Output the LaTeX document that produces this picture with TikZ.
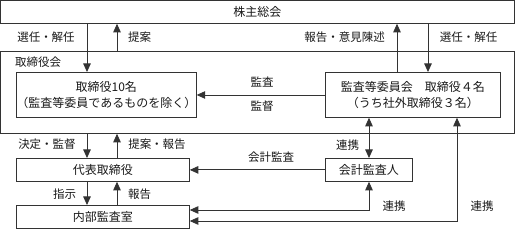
\documentclass[tikz,border=0pt]{standalone}
\usepackage{fontspec}
\setmainfont{Noto Sans CJK JP}
\usetikzlibrary{arrows.meta}
\begin{document}
\begin{tikzpicture}[x=1pt,y=-1pt,
  every node/.style={text=black!90},
  box/.style={draw=black!80, line width=0.8pt, inner sep=0pt, anchor=north west, font=\fontsize{12}{16.5}\selectfont, align=center},
  conn/.style={draw=black!80, line width=0.8pt},
  tip/.style={-{Triangle[length=8.5pt,width=7.5pt]}},
  tips/.style={{Triangle[length=8.5pt,width=7.5pt]}-{Triangle[length=8.5pt,width=7.5pt]}},
  lbl/.style={font=\fontsize{11.5}{13}\selectfont, inner sep=0pt}]
\useasboundingbox (0,0) rectangle (515,229);
% boxes
\node[box, minimum width=513pt, minimum height=22.5pt] (top) at (0.5,0.5) {株主総会};
\node[box, minimum width=513pt, minimum height=82pt] (board) at (0.5,51) {};
\node[lbl, anchor=west] (boardlbl) at (15,62) {取締役会};
\node[box, minimum width=173pt, minimum height=45pt] (d10) at (16,72) {取締役10名\\（監査等委員であるものを除く）};
\node[box, minimum width=175pt, minimum height=45pt] (com) at (325,72) {監査等委員会　取締役４名\\（うち社外取締役３名）};
\node[box, minimum width=173pt, minimum height=23pt] (rep) at (16,158) {代表取締役};
\node[box, minimum width=173pt, minimum height=23pt] (ia) at (16,205) {内部監査室};
\node[box, minimum width=87pt, minimum height=23pt] (ac) at (325,158) {会計監査人};
% helper coordinates
\coordinate (xa) at (87,0);
\coordinate (xb) at (117,0);
\coordinate (xc) at (397,0);
\coordinate (xd) at (428,0);
\coordinate (xe) at (369,0);
\coordinate (xf) at (457,0);
\coordinate (ym) at (0,95);
\coordinate (yu) at (0,210);
\coordinate (yl) at (0,221);
% connectors
\draw[conn,tip] (xa |- top.south) -- (xa |- d10.north);
\draw[conn,tip] (xb |- board.north) -- (xb |- top.south);
\draw[conn,tip] (xc |- com.north) -- (xc |- top.south);
\draw[conn,tip] (xd |- top.south) -- (xd |- com.north);
\draw[conn,tip] (com.west |- ym) -- (d10.east |- ym);
\draw[conn,tip] (xa |- board.south) -- (xa |- rep.north);
\draw[conn,tip] (xb |- rep.north) -- (xb |- board.south);
\draw[conn,tip] (xa |- rep.south) -- (xa |- ia.north);
\draw[conn,tip] (xb |- ia.north) -- (xb |- rep.south);
\draw[conn,tip] (ac.west) -- (rep.east |- ac.west);
\draw[conn,tips] (xe |- com.south) -- (xe |- ac.north);
\draw[conn,tips] (ia.east |- yu) -| (xe |- ac.south);
\draw[conn,tips] (ia.east |- yl) -| (xf |- com.south);
% labels
\node[lbl] (l1) at (46,37) {選任・解任};
\node[lbl] (l2) at (139.5,37) {提案};
\node[lbl] (l3) at (344.5,37) {報告・意見陳述};
\node[lbl] (l4) at (468.5,37) {選任・解任};
\node[lbl] (l5) at (262,82) {監査};
\node[lbl] (l6) at (262,106) {監督};
\node[lbl] (l7) at (47,144) {決定・監督};
\node[lbl] (l8) at (157,144) {提案・報告};
\node[lbl] (l9) at (64.5,194) {指示};
\node[lbl] (l10) at (139.5,194) {報告};
\node[lbl] (l11) at (271,157) {会計監査};
\node[lbl] (l12) at (347.5,145) {連携};
\node[lbl] (l13) at (394,206) {連携};
\node[lbl] (l14) at (482,206) {連携};
\end{tikzpicture}
\end{document}
